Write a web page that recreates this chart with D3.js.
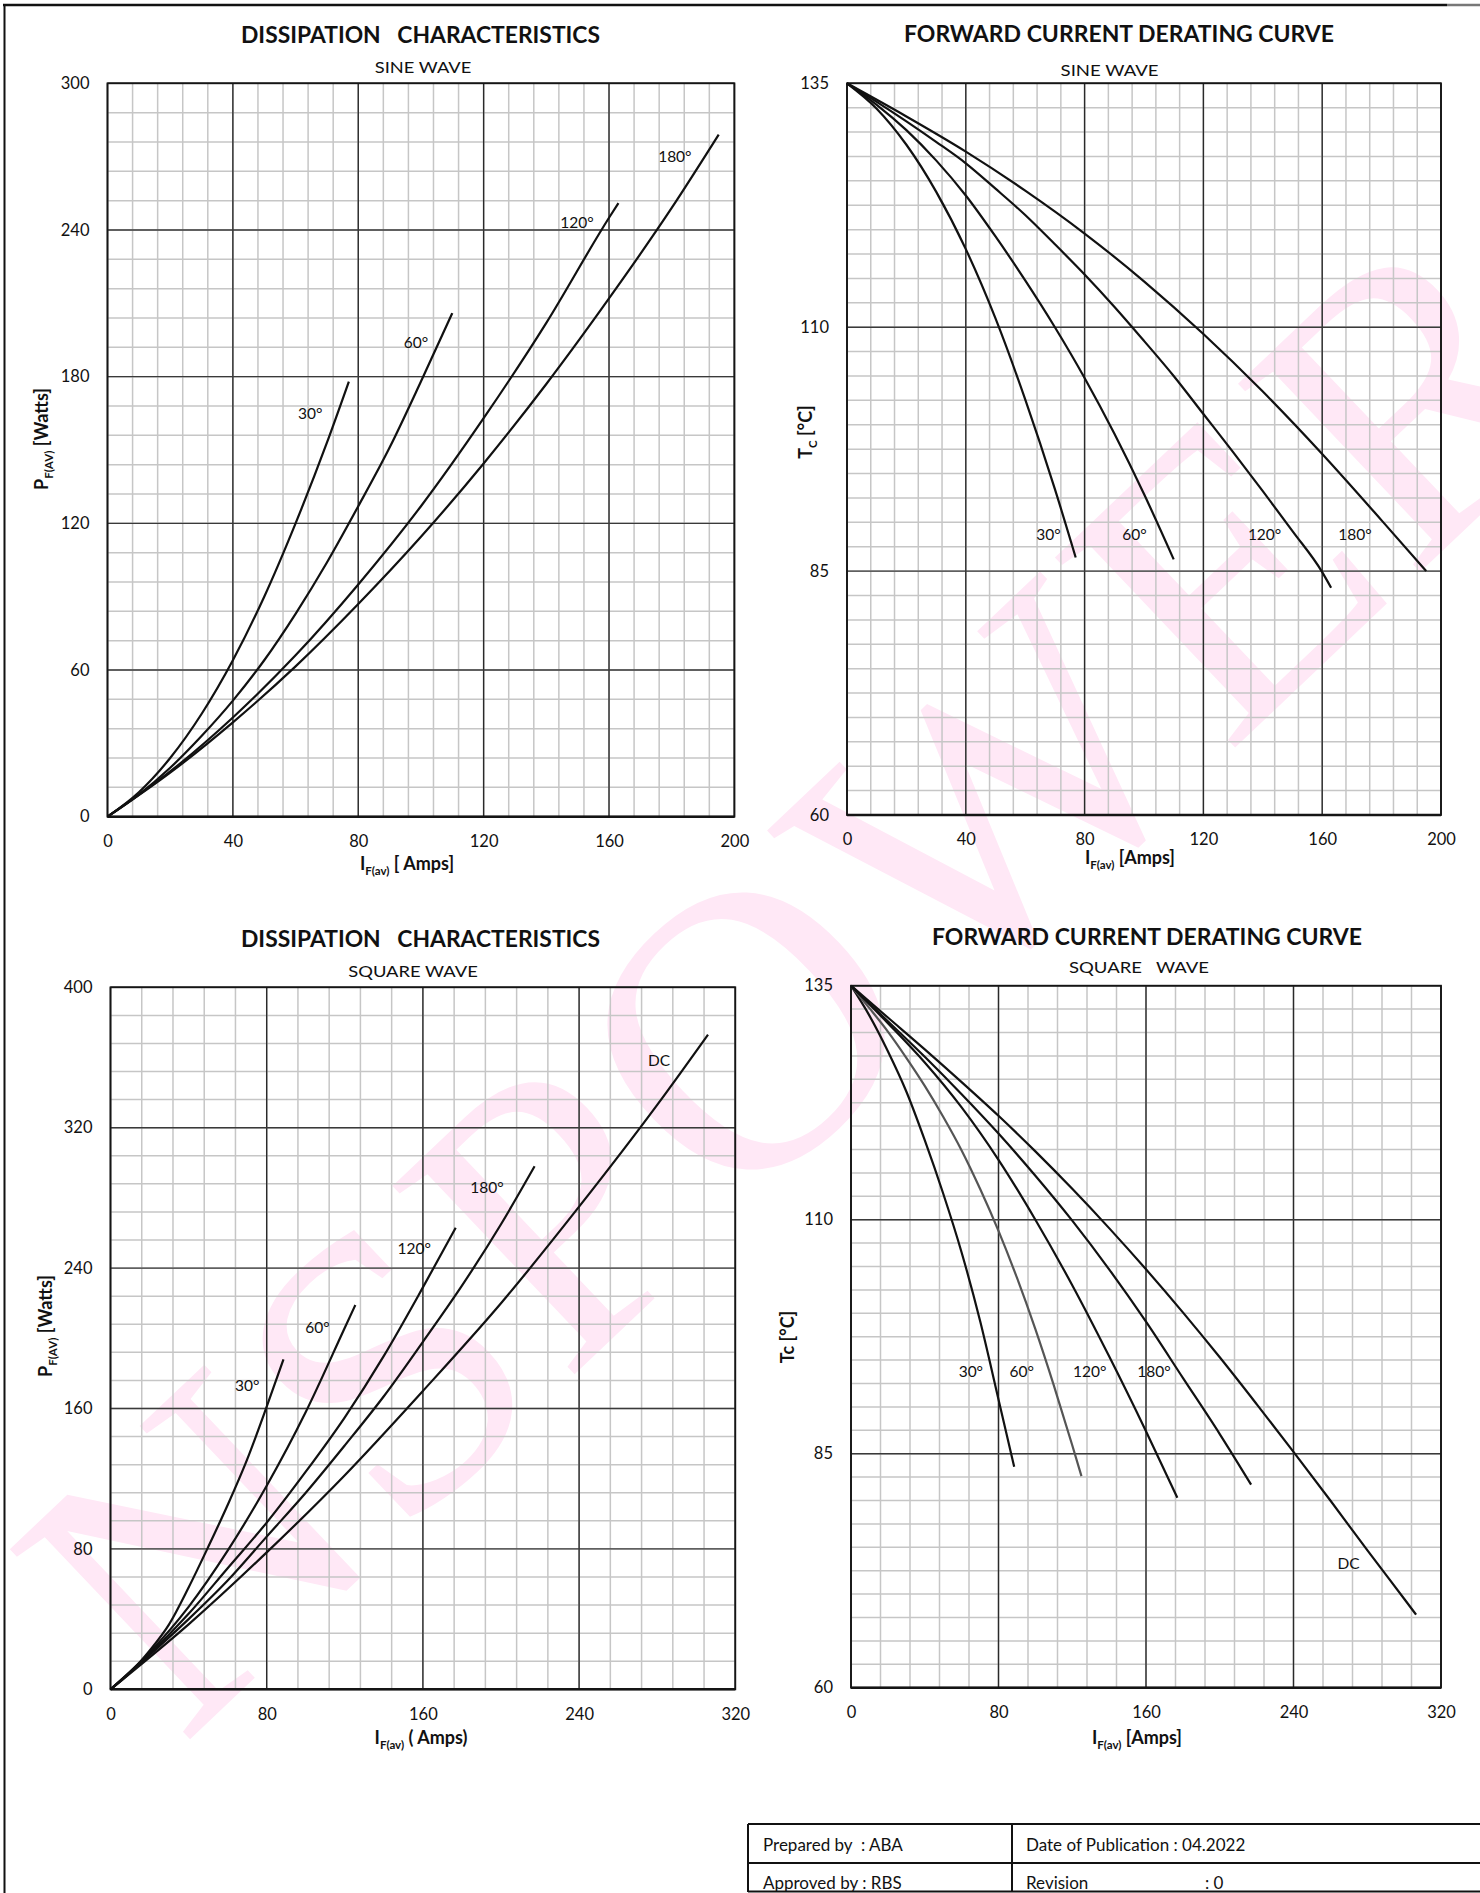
<!DOCTYPE html>
<html>
<head>
<meta charset="utf-8">
<script src="https://cdn.jsdelivr.net/npm/d3@7"></script>
<style>
  html, body { margin: 0; padding: 0; background: #fff; }
  svg { display: block; }
  text { font-family: Lato, "Open Sans", sans-serif; fill: #111; white-space: pre; }
</style>
</head>
<body>
<svg id="sheet" width="1480" height="1893"></svg>
<script>
// ---------------- data ----------------
// Dissipation, sine wave: I_F(av) [A] vs P_F(AV) [W]
const sineDissXTicks = [0, 40, 80, 120, 160, 200];
const sineDissYTicks = [0, 60, 120, 180, 240, 300];
const sineDiss30  = [[0,0],[10,10],[20,24],[30,42],[40,64],[50,90],[60,120],[70,153],[77,178]];
const sineDiss60  = [[0,0],[10,9],[20,20],[30,33],[40,47.5],[50,64],[60,83],[70,104],[80,127],[90,151],[100,178],[110,206]];
const sineDiss120 = [[0,0],[20,18.5],[40,40.6],[60,66],[80,95],[100,127],[120,163],[140,202],[160,245],[163,251]];
const sineDiss180 = [[0,0],[20,18],[40,38.6],[60,61.5],[80,87],[100,114.5],[120,144.5],[140,177],[160,212],[180,249],[195,279]];

// Derating, sine wave: I_F(av) [A] vs case temperature [°C]
const sineDerXTicks = [0, 40, 80, 120, 160, 200];
const sineDerYTicks = [60, 85, 110, 135];
const sineDer30  = [[0,135],[10,132.4],[20,128.7],[30,123.9],[40,118],[50,110.9],[60,102.6],[70,93.4],[77,86.4]];
const sineDer60  = [[0,135],[10,132.8],[20,130.2],[30,127.1],[40,123.5],[50,119.3],[60,114.8],[70,110],[80,104.8],[90,99.1],[100,92.9],[110,86.2]];
const sineDer120 = [[0,135],[10,133.1],[20,131.1],[30,129],[40,126.8],[50,124.2],[60,121.5],[70,118.5],[80,115.4],[90,112.1],[100,108.6],[110,105],[120,101.1],[130,97.2],[140,93.2],[150,89.1],[160,84.9],[163,83.3]];
const sineDer180 = [[0,135],[20,131.6],[40,128],[60,124],[80,119.6],[100,114.7],[120,109.3],[140,103.4],[160,97],[180,90.2],[195,85]];

// Dissipation, square wave
const sqDissXTicks = [0, 80, 160, 240, 320];
const sqDissYTicks = [0, 80, 160, 240, 320, 400];
const sqDiss30  = [[0,0],[10,9.5],[20,22],[30,37],[40,58],[50,81],[60,105],[70,131],[80,161],[88.6,188]];
const sqDiss60  = [[0,0],[20,21],[40,47],[60,79],[80,116],[100,158],[120,206],[125.4,219]];
const sqDiss120 = [[0,0],[20,20],[40,43],[60,69],[80,95],[100,124],[120,155],[140,190],[160,229],[176.8,263]];
const sqDiss180 = [[0,0],[20,19.5],[40,40],[60,62],[80,87],[100,112],[120,139],[140,167],[160,198],[180,230],[200,265],[217.2,298]];
const sqDissDC  = [[0,0],[40,37],[80,78],[120,122],[160,170],[200,220],[240,275],[280,333],[306,373]];

// Derating, square wave
const sqDerXTicks = [0, 80, 160, 240, 320];
const sqDerYTicks = [60, 85, 110, 135];
const sqDer30  = [[0,135],[10,131.8],[20,128],[30,123.7],[40,118.5],[50,112.8],[60,106.5],[70,99.2],[80,90.8],[88.5,83.6]];
const sqDer60  = [[0,135],[10,132.6],[20,130.1],[30,127.3],[40,124.3],[50,121],[60,117.4],[70,113.3],[80,108.8],[90,103.8],[100,98.3],[110,92.3],[120,85.9],[125,82.6]];
const sqDer120 = [[0,135],[20,131],[40,126.8],[60,122],[80,116.4],[100,110],[120,103],[140,95.4],[160,87.4],[177,80.3]];
const sqDer180 = [[0,135],[20,131.2],[40,127.4],[60,123.4],[80,119.2],[100,114.7],[120,109.9],[140,104.7],[160,99.1],[180,93.1],[200,87.1],[217,81.7]];
const sqDerDC  = [[0,135],[20,131.6],[40,128.2],[60,124.7],[80,121.1],[100,117.3],[120,113.3],[140,109.1],[160,104.7],[180,100.1],[200,95.3],[220,90.3],[240,85.2],[260,80],[280,74.7],[300,69.5],[306.5,67.8]];

const sineNames = ["30°", "60°", "120°", "180°"];
const squareNames = ["30°", "60°", "120°", "180°", "DC"];

const footerRows = [
  ["Prepared by  : ABA", "Date of Publication : 04.2022"],
  ["Approved by : RBS", "Revision"]
];
const revisionValue = ": 0";

// ---------------- layout ----------------
const svg = d3.select("#sheet");

// faint company watermark behind the charts
svg.append("text")
  .attr("transform", "translate(800,975) rotate(-43.5)")
  .attr("text-anchor", "middle")
  .attr("dominant-baseline", "central")
  .attr("textLength", 1960)
  .attr("lengthAdjust", "spacing")
  .style("font-family", "'Liberation Serif', 'DejaVu Serif', serif")
  .style("font-size", "400px")
  .style("fill", "#ffe8f6")
  .text("NSPOWER");

// sheet frame
svg.append("line").attr("x1", 3).attr("x2", 1447).attr("y1", 5).attr("y2", 5)
  .attr("stroke", "#111").attr("stroke-width", 2.5);
svg.append("line").attr("x1", 1447).attr("x2", 1480).attr("y1", 5).attr("y2", 5)
  .attr("stroke", "#777").attr("stroke-width", 2.5);
svg.append("line").attr("x1", 4.5).attr("x2", 4.5).attr("y1", 4).attr("y2", 1893)
  .attr("stroke", "#111").attr("stroke-width", 2);

function drawChart(cfg) {
  const g = svg.append("g");
  const x = d3.scaleLinear().domain(cfg.xDomain).range([cfg.left, cfg.right]);
  const y = d3.scaleLinear().domain(cfg.yDomain).range([cfg.bottom, cfg.top]);

  const xMinor = d3.range(cfg.xDomain[0], cfg.xDomain[1] + 1e-6, cfg.xMinorStep);
  const yMinor = d3.range(cfg.yDomain[0], cfg.yDomain[1] + 1e-6, cfg.yMinorStep);

  // light minor grid
  g.append("g").selectAll("line").data(xMinor).join("line")
    .attr("x1", d => x(d)).attr("x2", d => x(d))
    .attr("y1", cfg.top).attr("y2", cfg.bottom)
    .attr("stroke", "#c6c6c6").attr("stroke-width", 1.5);
  g.append("g").selectAll("line").data(yMinor).join("line")
    .attr("x1", cfg.left).attr("x2", cfg.right)
    .attr("y1", d => y(d)).attr("y2", d => y(d))
    .attr("stroke", "#c6c6c6").attr("stroke-width", 1.5);

  // major grid at labelled ticks
  g.append("g").selectAll("line").data(cfg.xTicks).join("line")
    .attr("x1", d => x(d)).attr("x2", d => x(d))
    .attr("y1", cfg.top).attr("y2", cfg.bottom)
    .attr("stroke", "#2a2a2a").attr("stroke-width", 1.4);
  g.append("g").selectAll("line").data(cfg.yTicks).join("line")
    .attr("x1", cfg.left).attr("x2", cfg.right)
    .attr("y1", d => y(d)).attr("y2", d => y(d))
    .attr("stroke", "#3a3a3a").attr("stroke-width", 1.4);

  // plot frame
  g.append("rect")
    .attr("x", cfg.left).attr("y", cfg.top)
    .attr("width", cfg.right - cfg.left).attr("height", cfg.bottom - cfg.top)
    .attr("fill", "none").attr("stroke", "#151515").attr("stroke-width", 1.8);
  g.append("line")
    .attr("x1", cfg.left).attr("x2", cfg.right)
    .attr("y1", cfg.bottom).attr("y2", cfg.bottom)
    .attr("stroke", "#151515").attr("stroke-width", 2.6);

  // tick labels
  const ax = g.append("g")
    .attr("transform", `translate(0,${cfg.bottom})`)
    .call(d3.axisBottom(x).tickValues(cfg.xTicks).tickSize(0).tickPadding(18.5).tickFormat(d3.format("d")));
  const ay = g.append("g")
    .attr("transform", `translate(${cfg.left},0)`)
    .call(d3.axisLeft(y).tickValues(cfg.yTicks).tickSize(0).tickPadding(18).tickFormat(d3.format("d")));
  [ax, ay].forEach(a => {
    a.select(".domain").remove();
    a.selectAll("text")
      .style("font-family", "Lato, 'Open Sans', sans-serif")
      .style("font-size", "16.5px").style("fill", "#111");
  });

  // titles
  g.append("text")
    .attr("x", cfg.title.cx).attr("y", cfg.title.y)
    .attr("text-anchor", "middle")
    .attr("textLength", cfg.title.w).attr("lengthAdjust", "spacingAndGlyphs")
    .style("font-weight", 700).style("font-size", "23px")
    .text(cfg.title.text);
  g.append("text")
    .attr("x", cfg.sub.cx).attr("y", cfg.sub.y)
    .attr("text-anchor", "middle")
    .attr("textLength", cfg.sub.w).attr("lengthAdjust", "spacingAndGlyphs")
    .style("font-size", "16px")
    .text(cfg.sub.text);

  // x-axis title with subscript
  const xt = g.append("text")
    .attr("x", cfg.xTitle.cx).attr("y", cfg.xTitle.y)
    .attr("text-anchor", "middle")
    .style("font-weight", 700).style("font-size", "18px");
  xt.append("tspan").text(cfg.xTitle.main);
  xt.append("tspan").attr("dy", 5).style("font-size", "11.5px").text(cfg.xTitle.sub);
  xt.append("tspan").attr("dy", -5).text(cfg.xTitle.rest);

  // y-axis title, rotated
  const yt = g.append("text")
    .attr("transform", `translate(${cfg.yTitle.x},${cfg.yTitle.cy}) rotate(-90)`)
    .attr("text-anchor", "middle")
    .style("font-weight", 700).style("font-size", "18px");
  yt.append("tspan").text(cfg.yTitle.main);
  if (cfg.yTitle.sub) {
    yt.append("tspan").attr("dy", 5).style("font-size", "11.5px").text(cfg.yTitle.sub);
    yt.append("tspan").attr("dy", -5).text(cfg.yTitle.rest);
  } else {
    yt.append("tspan").text(cfg.yTitle.rest);
  }

  // curves
  const line = d3.line().x(d => x(d[0])).y(d => y(d[1])).curve(d3.curveMonotoneX);
  g.append("g").selectAll("path").data(cfg.series).join("path")
    .attr("d", d => line(d.values))
    .attr("fill", "none")
    .attr("stroke", d => d.color || "#111")
    .attr("stroke-width", 2.2)
    .attr("stroke-linecap", "butt");

  // curve names
  g.append("g").selectAll("text").data(cfg.series).join("text")
    .attr("x", d => x(d.labelAt[0])).attr("y", d => y(d.labelAt[1]))
    .attr("dy", "0.35em")
    .attr("text-anchor", "middle")
    .style("font-size", "15.5px")
    .text(d => d.name);
}

drawChart({
  left: 107.5, right: 734.4, top: 83.3, bottom: 816.7,
  xDomain: [0, 200], yDomain: [0, 300], xMinorStep: 8, yMinorStep: 12,
  xTicks: sineDissXTicks, yTicks: sineDissYTicks,
  title: { text: "DISSIPATION   CHARACTERISTICS", cx: 420.5, y: 43, w: 359 },
  sub: { text: "SINE WAVE", cx: 423, y: 73.3, w: 96.5 },
  xTitle: { main: "I", sub: "F(av)", rest: " [ Amps]", cx: 407, y: 870 },
  yTitle: { main: "P", sub: "F(AV)", rest: " [Watts]", x: 48, cy: 439 },
  series: [
    { name: sineNames[0], values: sineDiss30, labelAt: [64.7, 165] },
    { name: sineNames[1], values: sineDiss60, labelAt: [98.4, 194] },
    { name: sineNames[2], values: sineDiss120, labelAt: [149.8, 243] },
    { name: sineNames[3], values: sineDiss180, labelAt: [181, 270] }
  ]
});

drawChart({
  left: 847, right: 1441, top: 83.3, bottom: 815,
  xDomain: [0, 200], yDomain: [60, 135], xMinorStep: 8, yMinorStep: 2.5,
  xTicks: sineDerXTicks, yTicks: sineDerYTicks,
  title: { text: "FORWARD CURRENT DERATING CURVE", cx: 1119, y: 41.7, w: 430 },
  sub: { text: "SINE WAVE", cx: 1109.6, y: 75.5, w: 98 },
  xTitle: { main: "I", sub: "F(av)", rest: " [Amps]", cx: 1130, y: 864 },
  yTitle: { main: "T", sub: "C", rest: " [°C]", x: 812, cy: 432 },
  series: [
    { name: sineNames[0], values: sineDer30, labelAt: [67.8, 88.7] },
    { name: sineNames[1], values: sineDer60, labelAt: [96.8, 88.7] },
    { name: sineNames[2], values: sineDer120, labelAt: [140.6, 88.7] },
    { name: sineNames[3], values: sineDer180, labelAt: [171, 88.7] }
  ]
});

drawChart({
  left: 110.5, right: 735.3, top: 987.3, bottom: 1689.3,
  xDomain: [0, 320], yDomain: [0, 400], xMinorStep: 16, yMinorStep: 16,
  xTicks: sqDissXTicks, yTicks: sqDissYTicks,
  title: { text: "DISSIPATION   CHARACTERISTICS", cx: 420.5, y: 946.5, w: 359 },
  sub: { text: "SQUARE WAVE", cx: 413, y: 977, w: 129.5 },
  xTitle: { main: "I", sub: "F(av)", rest: " ( Amps)", cx: 421, y: 1744 },
  yTitle: { main: "P", sub: "F(AV)", rest: " [Watts]", x: 52, cy: 1326 },
  series: [
    { name: squareNames[0], values: sqDiss30, labelAt: [70, 172.8] },
    { name: squareNames[1], values: sqDiss60, labelAt: [106, 206] },
    { name: squareNames[2], values: sqDiss120, labelAt: [155.6, 251.3] },
    { name: squareNames[3], values: sqDiss180, labelAt: [192.8, 286] },
    { name: squareNames[4], values: sqDissDC, labelAt: [281, 358] }
  ]
});

drawChart({
  left: 851, right: 1441, top: 985.7, bottom: 1687.7,
  xDomain: [0, 320], yDomain: [60, 135], xMinorStep: 16, yMinorStep: 2.5,
  xTicks: sqDerXTicks, yTicks: sqDerYTicks,
  title: { text: "FORWARD CURRENT DERATING CURVE", cx: 1147, y: 945, w: 430 },
  sub: { text: "SQUARE   WAVE", cx: 1139, y: 973, w: 140 },
  xTitle: { main: "I", sub: "F(av)", rest: " [Amps]", cx: 1137, y: 1744 },
  yTitle: { main: "Tc [°C]", rest: "", x: 794, cy: 1337 },
  series: [
    { name: squareNames[0], values: sqDer30, labelAt: [65, 93.8] },
    { name: squareNames[1], values: sqDer60, labelAt: [92.6, 93.8], color: "#555" },
    { name: squareNames[2], values: sqDer120, labelAt: [129.5, 93.8] },
    { name: squareNames[3], values: sqDer180, labelAt: [164.3, 93.8] },
    { name: squareNames[4], values: sqDerDC, labelAt: [269.9, 73.3] }
  ]
});

// approval block
const tbl = svg.append("g");
[1824, 1863, 1891.5].forEach(yy => tbl.append("line")
  .attr("x1", 748).attr("x2", 1480).attr("y1", yy).attr("y2", yy)
  .attr("stroke", "#111").attr("stroke-width", 2));
[748, 1012].forEach(xx => tbl.append("line")
  .attr("x1", xx).attr("x2", xx).attr("y1", 1824).attr("y2", 1892)
  .attr("stroke", "#111").attr("stroke-width", 2));
const rowBase = [1851, 1889];
footerRows.forEach((row, i) => {
  tbl.append("text").attr("x", 763).attr("y", rowBase[i]).style("font-size", "17px").text(row[0]);
  tbl.append("text").attr("x", 1026).attr("y", rowBase[i]).style("font-size", "17px").text(row[1]);
});
tbl.append("text").attr("x", 1205).attr("y", rowBase[1]).style("font-size", "17px").text(revisionValue);
</script>
</body>
</html>
